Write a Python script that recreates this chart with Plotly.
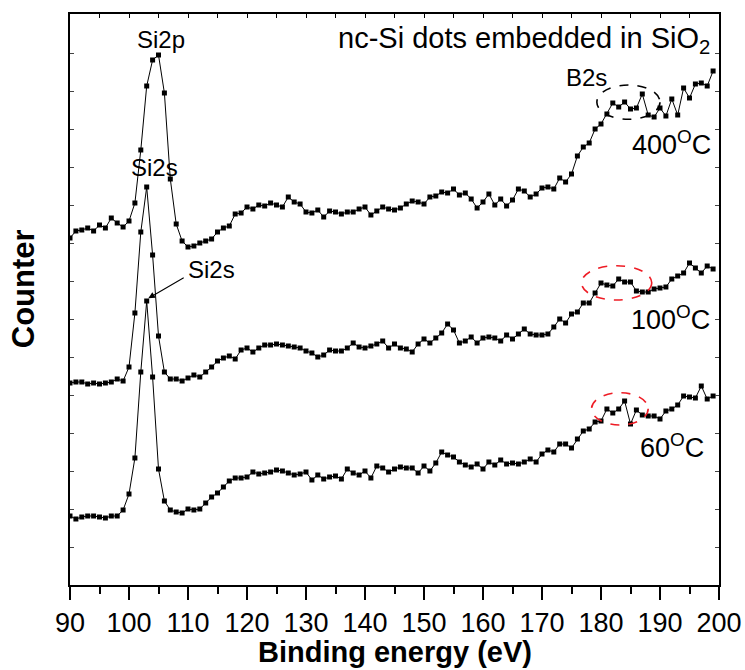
import plotly.graph_objects as go

energy = list(range(90, 200))

counts_400 = [347, 354, 355, 357, 354, 360, 357, 367, 362, 358,
              364, 382, 435, 499, 525, 530, 492, 406, 361, 344,
              338, 339, 342, 344, 346, 353, 357, 359, 371, 372,
              378, 376, 380, 379, 382, 380, 378, 388, 383, 381,
              373, 372, 375, 368, 374, 373, 371, 373, 373, 376,
              378, 370, 374, 378, 376, 375, 377, 381, 384, 383,
              381, 388, 389, 393, 392, 396, 390, 392, 386, 377,
              383, 391, 380, 386, 379, 385, 396, 394, 388, 391,
              397, 398, 396, 407, 403, 411, 429, 438, 442, 456,
              461, 471, 482, 478, 483, 476, 477, 491, 470, 468,
              477, 469, 486, 470, 497, 487, 501, 502, 499, 514]

counts_100 = [202, 203, 203, 201, 202, 201, 202, 203, 206, 204,
              218, 272, 353, 398, 330, 249, 213, 206, 206, 204,
              207, 210, 208, 213, 218, 224, 227, 229, 226, 235,
              237, 233, 237, 240, 240, 241, 240, 239, 238, 237,
              234, 232, 228, 230, 235, 234, 234, 237, 242, 238,
              237, 239, 241, 244, 237, 241, 237, 236, 233, 241,
              246, 242, 247, 252, 261, 255, 242, 244, 248, 242,
              247, 248, 247, 244, 250, 246, 251, 256, 251, 250,
              250, 251, 258, 266, 262, 271, 273, 282, 282, 292,
              302, 300, 299, 306, 303, 303, 294, 293, 293, 296,
              297, 298, 306, 309, 312, 322, 317, 312, 319, 316]

counts_60 = [69, 66, 68, 69, 69, 68, 67, 69, 69, 75,
             91, 127, 213, 284, 208, 116, 84, 75, 73, 72,
             76, 75, 76, 82, 88, 92, 98, 104, 107, 107,
             108, 113, 111, 112, 113, 115, 114, 112, 110, 111,
             113, 105, 110, 106, 108, 109, 106, 116, 112, 110,
             114, 107, 119, 117, 113, 116, 118, 117, 117, 112,
             119, 114, 122, 133, 130, 128, 123, 120, 118, 121,
             116, 123, 120, 125, 121, 122, 121, 123, 126, 123,
             131, 135, 133, 141, 141, 137, 146, 154, 156, 163,
             164, 176, 172, 176, 184, 161, 175, 170, 169, 169,
             166, 174, 176, 180, 189, 188, 187, 199, 186, 189]

x_ticks = [90, 100, 110, 120, 130, 140, 150, 160, 170, 180, 190, 200]

fig = go.Figure()
for ys in (counts_400, counts_100, counts_60):
    fig.add_trace(go.Scatter(
        x=energy, y=ys, mode="lines+markers",
        line=dict(color="black", width=1),
        marker=dict(symbol="square", size=5, color="black"),
        showlegend=False, hoverinfo="skip"))

# dummy trace for the top axis (inside ticks)
fig.add_trace(go.Scatter(x=[90, 200], y=[0, 0], xaxis="x2", mode="markers",
                         marker=dict(opacity=0), showlegend=False, hoverinfo="skip"))

axis_font = dict(family="Liberation Sans, Arial, sans-serif", color="black")

fig.update_layout(
    width=745, height=670,
    margin=dict(l=70, r=26, t=14, b=85, autoexpand=False),
    paper_bgcolor="white", plot_bgcolor="white",
    font=dict(family="Liberation Sans, Arial, sans-serif", color="black"),
    xaxis=dict(range=[90, 200], tickvals=x_ticks, ticks="outside", ticklen=13,
               tickwidth=1.5, tickcolor="black", showline=True, linecolor="black",
               linewidth=1.5, mirror=True, showgrid=False, zeroline=False,
               automargin=False,
               tickfont=dict(size=27, **axis_font),
               minor=dict(dtick=5, tick0=90, ticks="outside", ticklen=7,
                          tickwidth=1.5, tickcolor="black", showgrid=False)),
    xaxis2=dict(range=[90, 200], overlaying="x", side="top", anchor="y",
                dtick=5, tick0=90, ticks="inside", ticklen=4, tickwidth=1,
                tickcolor="black", showticklabels=False, showgrid=False,
                zeroline=False, showline=False, automargin=False),
    yaxis=dict(range=[0, 571], showticklabels=False, ticks="inside", ticklen=4,
               tickwidth=1, tickcolor="#444", dtick=38, tick0=0,
               showline=True, linecolor="black", linewidth=1.5, mirror="ticks",
               showgrid=False, zeroline=False, automargin=False),
)

annos = [
    dict(x=105.4, y=546, text="Si2p", size=24),
    dict(x=104.3, y=418, text="Si2s", size=24),
    dict(x=113.95, y=316, text="Si2s", size=24),
    dict(x=177.6, y=508, text="B2s", size=24),
    dict(x=192.0, y=442, text="400<sup>O</sup>C", size=27),
    dict(x=191.7, y=267, text="100<sup>O</sup>C", size=27),
    dict(x=192.0, y=139, text="60<sup>O</sup>C", size=27),
]
for a in annos:
    fig.add_annotation(x=a["x"], y=a["y"], xref="x", yref="y", text=a["text"],
                       showarrow=False, xanchor="center", yanchor="middle",
                       font=dict(size=a["size"], color="black"))

fig.add_annotation(x=198.8, y=545, xref="x", yref="y",
                   text="nc-Si dots embedded in SiO<sub>2</sub>", showarrow=False,
                   xanchor="right", yanchor="middle", font=dict(size=29, color="black"))

# arrow to lower Si2s peak
fig.add_annotation(x=103.27, y=286.7, xref="x", yref="y", ax=109.78, ay=309,
                   axref="x", ayref="y", text=" ", showarrow=True, arrowhead=2,
                   arrowsize=1.2, arrowwidth=1.1, arrowcolor="black",
                   font=dict(size=10))

fig.add_annotation(x=-0.0724, y=0.518, xref="paper", yref="paper", text="<b>Counter</b>",
                   textangle=-90, showarrow=False, xanchor="center", yanchor="middle",
                   font=dict(size=31, color="black"))
fig.add_annotation(x=0.5008, y=-0.118, xref="paper", yref="paper",
                   text="<b>Binding energy (eV)</b>", showarrow=False,
                   xanchor="center", yanchor="middle", font=dict(size=29, color="black"))

ellipses = [
    dict(x0=179.3, x1=190.0, y0=465.7, y1=500, color="black"),
    dict(x0=176.7, x1=188.6, y0=285, y1=319.3, color="#ee1c25"),
    dict(x0=178.4, x1=188.0, y0=160, y1=192.3, color="#ee1c25"),
]
for e in ellipses:
    fig.add_shape(type="circle", xref="x", yref="y", x0=e["x0"], x1=e["x1"],
                  y0=e["y0"], y1=e["y1"], line=dict(color=e["color"], width=1.6, dash="dash"))

fig.write_html("out.html", config={"displayModeBar": False},
               post_script="document.body.style.margin='0';")
